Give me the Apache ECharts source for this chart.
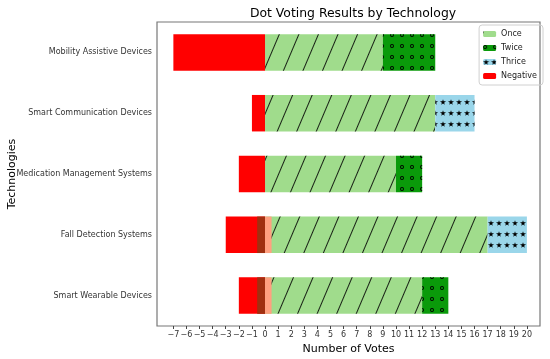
<!DOCTYPE html>
<html>
<head>
<meta charset="utf-8">
<script src="https://cdn.jsdelivr.net/npm/echarts@6/dist/echarts.min.js"></script>
<style>html,body{margin:0;padding:0;background:#fff}#c{width:550px;height:359px}</style>
</head>
<body>
<div id="c"></div>
<script>
const categories = ['Smart Wearable Devices', 'Fall Detection Systems', 'Medication Management Systems', 'Smart Communication Devices', 'Mobility Assistive Devices'];
const once = [12, 17, 10, 13, 9];
const twice = [2, 0, 2, 0, 4];
const thrice = [0, 3, 0, 3, 0];
const negative = [-2, -3, -2, -1, -7];
// overlapping leftover marks seen near zero in the reference
const overlapPos = [0.5, 0.5, 0, 0, 0];
const overlapNeg = [-0.6, -0.6, 0, 0, 0];
const xTicks = [-7,-6,-5,-4,-3,-2,-1,0,1,2,3,4,5,6,7,8,9,10,11,12,13,14,15,16,17,18,19,20];

const FONT = 'DejaVu Sans';
const ring = 'path://M0,5a5,5 0 1,0 10,0a5,5 0 1,0 -10,0Z M2.2,5a2.8,2.8 0 1,1 5.6,0a2.8,2.8 0 1,1 -5.6,0Z';
const star = 'path://M50,0 L61,35 L98,35 L68,57 L79,91 L50,70 L21,91 L32,57 L2,35 L39,35 Z';

const barCommon = {type: 'bar', barWidth: '60%', barGap: '-100%'};

const chart = echarts.init(document.getElementById('c'), null, {renderer: 'canvas'});
chart.setOption({
  animation: false,
  textStyle: {fontFamily: FONT},
  title: {
    text: 'Dot Voting Results by Technology',
    left: 348, top: 3, textAlign: 'center',
    textStyle: {fontFamily: FONT, fontSize: 12.4, fontWeight: 'normal', color: '#000'}
  },
  legend: {
    orient: 'vertical', right: 7, top: 25,
    itemWidth: 13, itemHeight: 6, itemGap: 6,
    padding: [5, 6, 5, 4],
    borderColor: '#d0d0d0', borderWidth: 1, borderRadius: 3,
    textStyle: {fontFamily: FONT, fontSize: 8, color: '#222'},
    data: ['Once', 'Twice', 'Thrice', 'Negative']
  },
  grid: {left: 157, right: 10, top: 22, bottom: 33, show: true, borderColor: '#777', borderWidth: 1.2,
    containLabel: false, outerBoundsMode: 'none'},
  xAxis: {
    type: 'value', min: -8.25, max: 21,
    name: 'Number of Votes', nameLocation: 'middle', nameGap: 18, nameMoveOverlap: false,
    nameTextStyle: {fontFamily: FONT, fontSize: 11, color: '#000'},
    splitLine: {show: false},
    axisLine: {show: false},
    axisTick: {show: true, length: 3, lineStyle: {color: '#444'}, customValues: xTicks},
    axisLabel: {fontFamily: FONT, fontSize: 8, color: '#333', margin: 5, customValues: xTicks,
      formatter: v => (v < 0 ? '\u2212' + (-v) : String(v))}
  },
  yAxis: {
    type: 'category', data: categories,
    name: 'Technologies', nameLocation: 'middle', nameGap: 139, nameMoveOverlap: false,
    nameTextStyle: {fontFamily: FONT, fontSize: 11, color: '#000'},
    axisLine: {show: false},
    axisTick: {show: true, length: 3, alignWithLabel: true, lineStyle: {color: '#444'}},
    axisLabel: {fontFamily: FONT, fontSize: 8, color: '#333', margin: 5}
  },
  series: [
    Object.assign({name: 'Once', stack: 'a', data: once,
      itemStyle: {color: '#a0dc8c',
        decal: {symbol: 'rect', symbolSize: 1, dashArrayX: [1, 0], dashArrayY: [1, 16.5], rotation: -67 * Math.PI / 180, color: 'rgba(0,0,0,0.85)'}}}, barCommon),
    Object.assign({name: 'Twice', stack: 'a', data: twice,
      itemStyle: {color: '#0a9a0a',
        decal: {symbol: ring, symbolSize: 1, symbolKeepAspect: true, dashArrayX: [3.5, 5.8], dashArrayY: [3.5, 6.5], rotation: 0, color: '#000'}}}, barCommon),
    Object.assign({name: 'Thrice', stack: 'a', data: thrice,
      itemStyle: {color: '#9ad6ea',
        decal: {symbol: star, symbolSize: 1, symbolKeepAspect: true, dashArrayX: [6, 1.8], dashArrayY: [6, 4.2], rotation: 0, color: '#000'}}}, barCommon),
    Object.assign({name: 'Negative', stack: 'a', data: negative, itemStyle: {color: '#ff0000'}}, barCommon),
    Object.assign({name: 'overlapPos', stack: 'b', data: overlapPos, itemStyle: {color: '#ffa080'}}, barCommon),
    Object.assign({name: 'overlapNeg', stack: 'b', data: overlapNeg, itemStyle: {color: '#a03010'}}, barCommon)
  ]
});
</script>
</body>
</html>
